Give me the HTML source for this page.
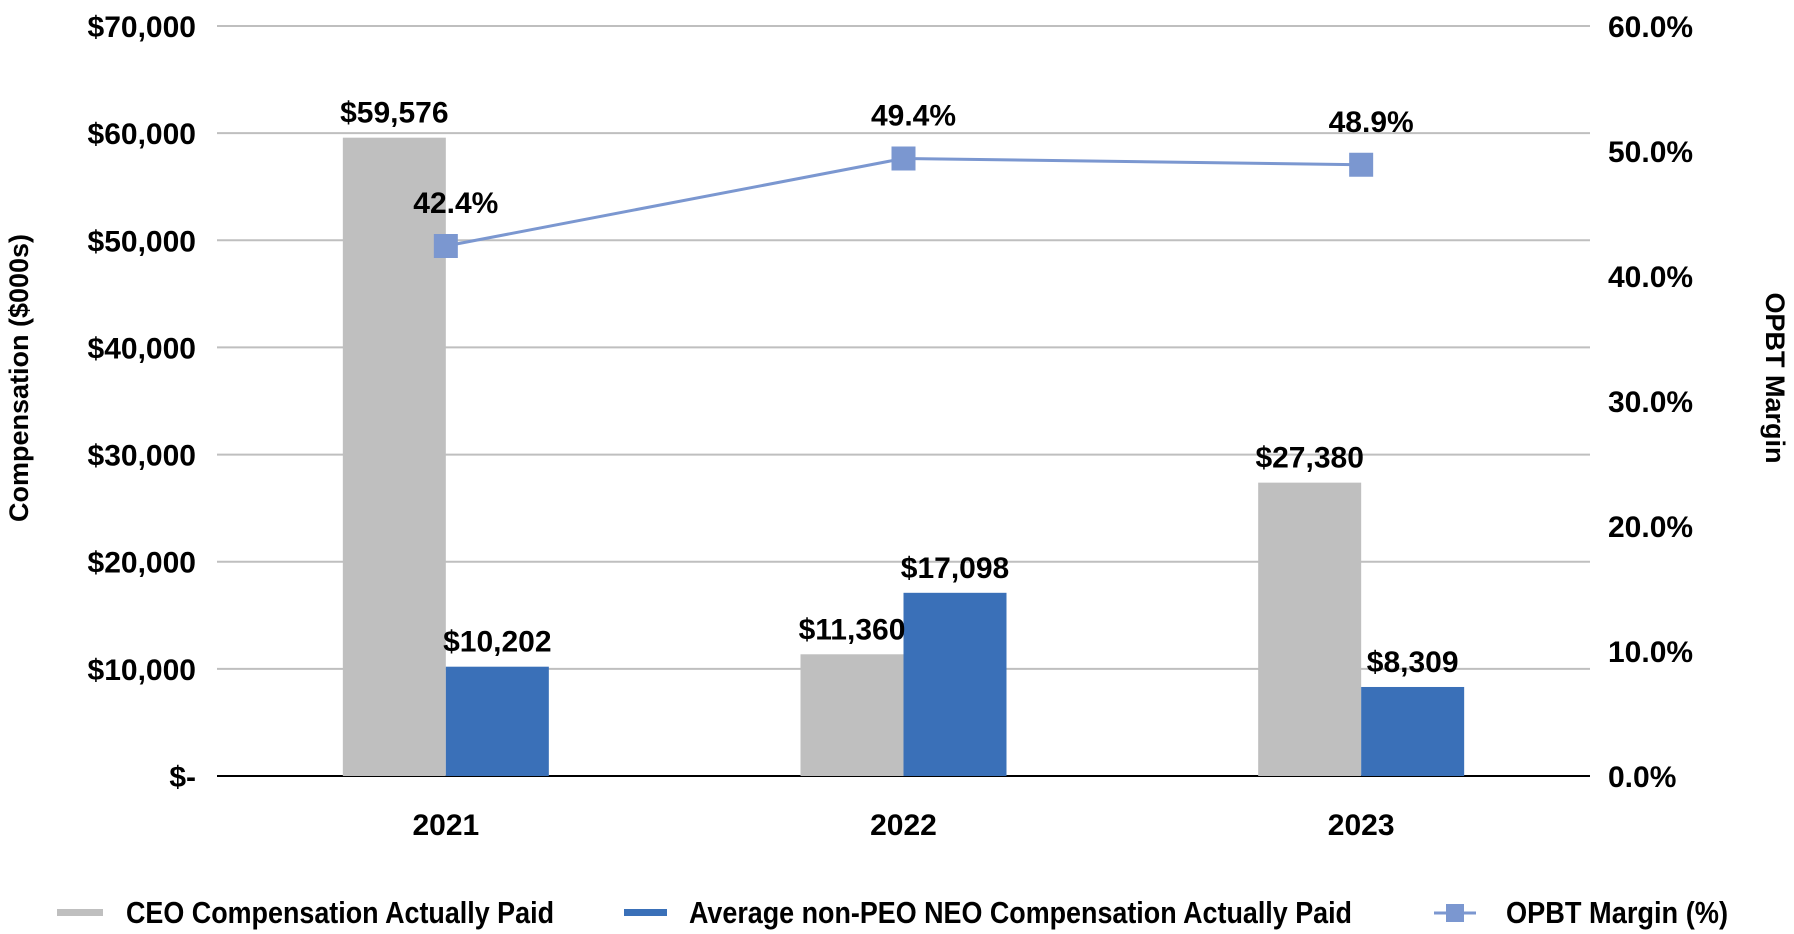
<!DOCTYPE html>
<html><head><meta charset="utf-8">
<style>
html,body{margin:0;padding:0;background:#fff;}
svg{display:block;font-family:"Liberation Sans Narrow","Liberation Sans",sans-serif;font-weight:bold;}
</style></head>
<body>
<svg id="chart" width="1794" height="934" viewBox="0 0 1794 934">
<g id="grid"></g>
<g id="bars"></g>
<g id="line"></g>
<g id="labels"></g>
<text x="28" y="378" transform="rotate(-90 28 378)" text-anchor="middle" font-size="27">Compensation ($000s)</text>
<text x="1766" y="378" transform="rotate(90 1766 378)" text-anchor="middle" font-size="27">OPBT Margin</text>
<g>
<g><rect x="57" y="909" width="46" height="7" fill="#bfbfbf"/><text x="126" y="923" font-size="31" textLength="428" lengthAdjust="spacingAndGlyphs">CEO Compensation Actually Paid</text></g>
<g><rect x="624" y="909" width="43" height="7" fill="#3a70b8"/><text x="689" y="923" font-size="31" textLength="663" lengthAdjust="spacingAndGlyphs">Average non-PEO NEO Compensation Actually Paid</text></g>
<g><line x1="1434" y1="913" x2="1476" y2="913" stroke="#7b97d0" stroke-width="3"/><rect x="1446" y="904" width="18" height="18" fill="#7b97d0"/><text x="1506" y="923" font-size="31" textLength="222" lengthAdjust="spacingAndGlyphs">OPBT Margin (%)</text></g>
</g>
</svg>
<script>
const categories = ["2021","2022","2023"];
const ceoValues = [59576, 11360, 27380];
const neoValues = [10202, 17098, 8309];
const marginValues = [42.4, 49.4, 48.9];
const leftTicks = [0,10000,20000,30000,40000,50000,60000,70000];
const rightTicks = [0,10,20,30,40,50,60];

const NS="http://www.w3.org/2000/svg";
const L=217,R=1590,T=26,B=776;
const yL=v=>B-(v/70000)*(B-T);
const yR=v=>B-(v/60)*(B-T);
const band=(R-L)/categories.length;
const cx=i=>L+band*(i+0.5);
const bw=103;
function mk(tag,attrs,parent,txt){const e=document.createElementNS(NS,tag);for(const k in attrs)e.setAttribute(k,attrs[k]);if(txt!==undefined)e.textContent=txt;parent.appendChild(e);return e;}
const fmt=v=>"$"+v.toLocaleString("en-US");
const grid=document.getElementById("grid"),bars=document.getElementById("bars"),line=document.getElementById("line"),labels=document.getElementById("labels");
leftTicks.forEach(v=>{
  if(v>0){const g=mk("line",{x1:L,x2:R,y1:yL(v),y2:yL(v),stroke:"#bfbfbf","stroke-width":2},grid);
  
  }
  const t=mk("text",{x:196,y:yL(v)+11,"text-anchor":"end","font-size":30},labels,v===0?"$-":fmt(v));
  
  
});
rightTicks.forEach(v=>{
  const t=mk("text",{x:1608,y:yR(v)+11,"font-size":30},labels,v.toFixed(1)+"%");
  
  
});
categories.forEach((c,i)=>{
  const r1=mk("rect",{x:cx(i)-bw,y:yL(ceoValues[i]),width:bw,height:B-yL(ceoValues[i]),fill:"#bfbfbf"},bars);
  
  
  const r2=mk("rect",{x:cx(i),y:yL(neoValues[i]),width:bw,height:B-yL(neoValues[i]),fill:"#3a70b8"},bars);
  
  
  const t1=mk("text",{x:cx(i)-bw/2,y:yL(ceoValues[i])-15,"text-anchor":"middle","font-size":30},labels,fmt(ceoValues[i]));
  
  
  const t2=mk("text",{x:cx(i)+bw/2,y:yL(neoValues[i])-15,"text-anchor":"middle","font-size":30},labels,fmt(neoValues[i]));
  
  
  const xl=mk("text",{x:cx(i),y:835,"text-anchor":"middle","font-size":30},labels,c);
  
  
});
const base=mk("line",{x1:L,x2:R,y1:B,y2:B,stroke:"#000","stroke-width":2},grid);


const pl=mk("polyline",{points:marginValues.map((v,i)=>cx(i)+","+yR(v)).join(" "),fill:"none",stroke:"#7b97d0","stroke-width":3},line);


marginValues.forEach((v,i)=>{
  const m=mk("rect",{x:cx(i)-12,y:yR(v)-12,width:24,height:24,fill:"#7b97d0"},line);
  
  
  const t=mk("text",{x:cx(i)+10,y:yR(v)-33,"text-anchor":"middle","font-size":30},labels,v.toFixed(1)+"%");
  
  
});
</script>
</body></html>
